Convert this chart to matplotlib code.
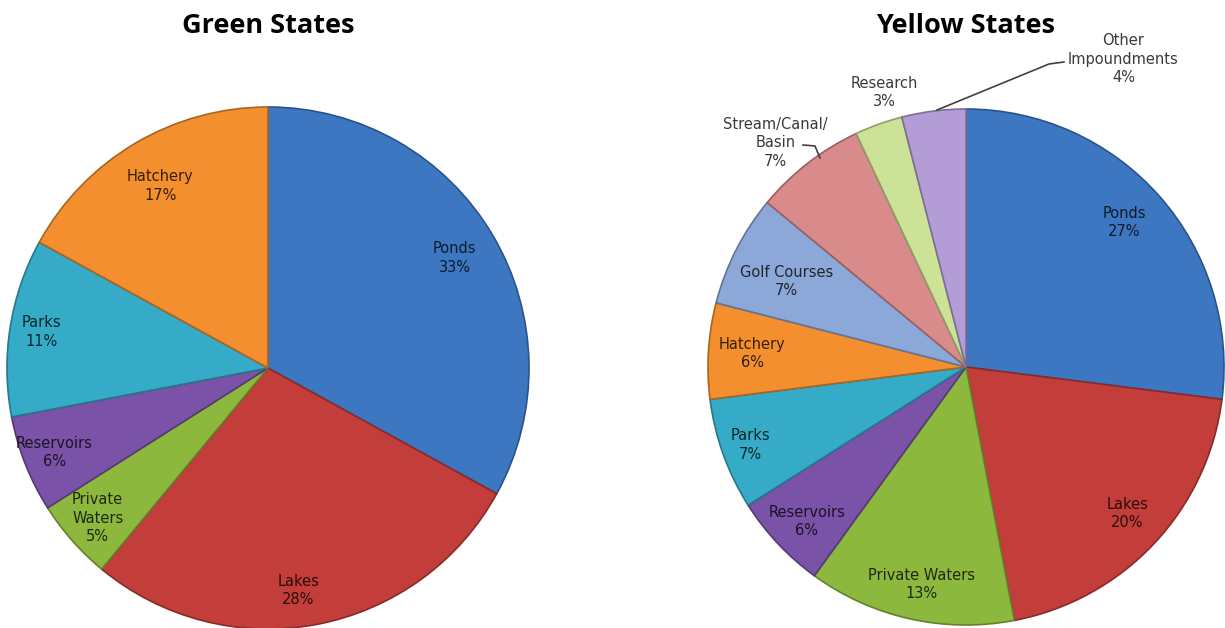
#!/usr/bin/env python3
"""
Two pie charts: share of fish stocking sites by water type, Green vs Yellow states.
"""

import numpy as np
import matplotlib
matplotlib.use("Agg")
import matplotlib.pyplot as plt
from matplotlib.colors import to_rgb

# --- Data ---
green_labels = ["Ponds", "Lakes", "Private\nWaters", "Reservoirs", "Parks", "Hatchery"]
green_values = [33, 28, 5, 6, 11, 17]

yellow_labels = ["Ponds", "Lakes", "Private Waters", "Reservoirs", "Parks", "Hatchery",
                 "Golf Courses", "Stream/Canal/\nBasin", "Research", "Other\nImpoundments"]
yellow_values = [27, 20, 13, 6, 7, 6, 7, 7, 3, 4]

# --- Styling ---
BLUE, RED, GREEN, PURPLE, AQUA, ORANGE = "#3D77C2", "#C33D3A", "#8DB83E", "#7A52A8", "#36ABC7", "#F38F2E"
green_colors = [BLUE, RED, GREEN, PURPLE, AQUA, ORANGE]
yellow_colors = [BLUE, RED, GREEN, PURPLE, AQUA, ORANGE, "#8BA8D8", "#D98A8A", "#CCE296", "#B49CD6"]

# label placement: radial fraction of radius, angle shift (deg) from wedge middle
green_frac = [0.83, 0.86, 0.87, 0.88, 0.88, 0.81]
green_shift = [0, -3, 0, 0, 0, 0]
yellow_frac = [0.83, 0.845, 0.86, 0.86, 0.89, 0.83, 0.77, 1.14, 1.11, 1.34]
yellow_shift = [1, 1, 1, 1, 0, 0, 1.5, 2.5, -3.3, -34.3]


def darker(c, k=0.22):
    r, g, b = to_rgb(c)
    return (r * k, g * k, b * k)


def edge(c, k=0.7):
    r, g, b = to_rgb(c)
    return (r * k, g * k, b * k)


def draw_pie(ax, values, labels, colors, center, radius, fracs, shifts, title):
    wedges, _ = ax.pie(values, colors=colors, startangle=90, counterclock=False,
                       center=center, radius=radius,
                       wedgeprops=dict(linewidth=1.2))
    for w, c in zip(wedges, colors):
        w.set_edgecolor(edge(c))
    for w, lab, v, f, s, c in zip(wedges, labels, values, fracs, shifts, colors):
        mid = np.deg2rad((w.theta1 + w.theta2) / 2 + s)
        x = center[0] + f * radius * np.cos(mid)
        y = center[1] + f * radius * np.sin(mid)
        col = darker(c) if f < 1 else "#3a3a3a"
        ax.text(x, y, f"{lab}\n{v}%", ha="center", va="center", fontsize=10.5,
                color=col, linespacing=1.3, family="DejaVu Sans")
    ax.text(center[0], 602, title, ha="center", va="center", fontsize=19.5,
            fontweight="bold", family="Open Sans", color="black")
    return wedges


fig = plt.figure(figsize=(12.25, 6.28), dpi=100)
ax = fig.add_axes([0, 0, 1, 1])

draw_pie(ax, green_values, green_labels, green_colors, (268, 260), 261,
         green_frac, green_shift, "Green States")
draw_pie(ax, yellow_values, yellow_labels, yellow_colors, (966, 261), 258,
         yellow_frac, yellow_shift, "Yellow States")

# leader lines for outside labels
ax.plot([803, 815, 820], [483, 482, 470], color="#404040", lw=1.2)
ax.plot([1064, 1049, 937], [566, 564, 518], color="#404040", lw=1.2)

ax.set_xlim(0, 1225)
ax.set_ylim(0, 628)
ax.set_aspect("equal")
ax.axis("off")

fig.savefig("out.png", dpi=100, facecolor="white")
